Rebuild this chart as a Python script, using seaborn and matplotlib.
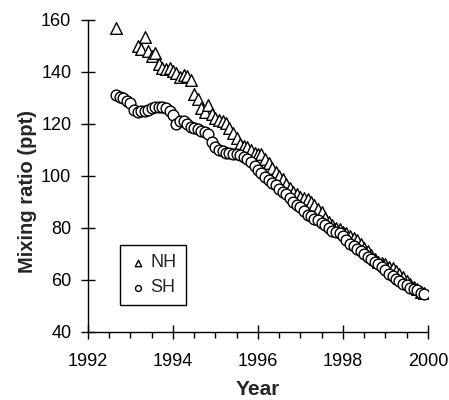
import matplotlib
matplotlib.use("Agg")
import matplotlib.pyplot as plt
import seaborn as sns
import pandas as pd
from matplotlib.ticker import MultipleLocator

# --- data -------------------------------------------------------------
sh_year = [1992.67, 1992.75, 1992.83, 1992.92, 1993.00, 1993.08, 1993.17, 1993.25,
           1993.33, 1993.42, 1993.50, 1993.58, 1993.67, 1993.75, 1993.83, 1993.92,
           1994.00, 1994.08, 1994.17, 1994.25, 1994.33, 1994.42, 1994.50, 1994.58,
           1994.67, 1994.75, 1994.83, 1994.92, 1995.00, 1995.08, 1995.17, 1995.25,
           1995.33, 1995.42, 1995.50, 1995.58, 1995.67, 1995.75, 1995.83, 1995.92,
           1996.00, 1996.08, 1996.17, 1996.25, 1996.33, 1996.42, 1996.50, 1996.58,
           1996.67, 1996.75, 1996.83, 1996.92, 1997.00, 1997.08, 1997.17, 1997.25,
           1997.33, 1997.42, 1997.50, 1997.58, 1997.67, 1997.75, 1997.83, 1997.92,
           1998.00, 1998.08, 1998.17, 1998.25, 1998.33, 1998.42, 1998.50, 1998.58,
           1998.67, 1998.75, 1998.83, 1998.92, 1999.00, 1999.08, 1999.17, 1999.25,
           1999.33, 1999.42, 1999.50, 1999.58, 1999.67, 1999.75, 1999.83, 1999.92]
sh_ppt = [131, 130.5, 130, 129, 128, 125.5, 124.5, 125,
          125, 125.5, 126, 126.5, 126.5, 126.5, 126, 125,
          123.5, 120, 121, 121, 120, 119, 118.5, 118,
          117.5, 117, 116, 113, 111, 110, 109.5, 109,
          109, 108.5, 108.5, 108, 107.5, 106.5, 105.5, 104,
          102.5, 101, 99.5, 98.5, 97.5, 96.5, 95, 94,
          93, 91.5, 90, 89, 88, 86.5, 85, 84.5,
          83.5, 83, 82, 81, 80, 79, 78.5, 78,
          77, 75.5, 74, 73, 72, 71, 70, 69,
          68, 67, 66, 65, 64, 62.5, 61.5, 60.5,
          59.5, 58.5, 58, 57, 56.5, 56, 55, 54.5]

nh_year = [1992.67, 1993.17, 1993.25, 1993.33, 1993.42, 1993.50, 1993.58, 1993.67,
           1993.75, 1993.83, 1993.92, 1994.00, 1994.08, 1994.17, 1994.25, 1994.33,
           1994.42, 1994.50, 1994.58, 1994.67, 1994.75, 1994.83, 1994.92, 1995.00,
           1995.08, 1995.17, 1995.25, 1995.33, 1995.42, 1995.50, 1995.58, 1995.67,
           1995.75, 1995.83, 1995.92, 1996.00, 1996.08, 1996.17, 1996.25, 1996.33,
           1996.42, 1996.50, 1996.58, 1996.67, 1996.75, 1996.83, 1996.92, 1997.00,
           1997.08, 1997.17, 1997.25, 1997.33, 1997.42, 1997.50, 1997.58, 1997.67,
           1997.75, 1997.83, 1997.92, 1998.00, 1998.08, 1998.17, 1998.25, 1998.33,
           1998.42, 1998.50, 1998.58, 1998.67, 1998.75, 1998.83, 1998.92, 1999.00,
           1999.08, 1999.17, 1999.25, 1999.33, 1999.42, 1999.50, 1999.58, 1999.67,
           1999.75, 1999.83, 1999.92]
nh_ppt = [157, 150, 149, 153.5, 148, 146, 147.5, 143,
          141.5, 141, 141.5, 140.5, 139.5, 138, 139, 138.5,
          137, 131.5, 129.5, 126, 124.5, 127.5, 124, 122.5,
          121.5, 121, 120.5, 118.5, 116.5, 114.5, 112.5, 111.5,
          111, 110, 109, 108.5, 108.5, 106.5, 105, 103,
          101.5, 100, 99, 97, 95.5, 94, 93, 92,
          91.5, 91, 90, 89, 87.5, 86, 84, 82.5,
          81, 80, 79.5, 78.5, 78, 77, 76, 75.5,
          74, 72.5, 71, 69.5, 68, 67, 66.5, 66,
          65, 64.5, 63.5, 62.5, 61, 59.5, 58.5, 57.5,
          56.5, 55.5, 55]

x_ticks = [1992, 1994, 1996, 1998, 2000]
y_ticks = [40, 60, 80, 100, 120, 140, 160]
x_label = "Year"
y_label = "Mixing ratio (ppt)"
series_names = ["NH", "SH"]

# --- plot -------------------------------------------------------------
sns.set_style("ticks")
plt.rcParams['font.family'] = ['Liberation Sans', 'DejaVu Sans']

nh = pd.DataFrame({"year": nh_year, "ppt": nh_ppt})
sh = pd.DataFrame({"year": sh_year, "ppt": sh_ppt})

fig = plt.figure(figsize=(4.49, 4.0), dpi=100)
ax = fig.add_axes([0.196, 0.17, 0.757, 0.78])

sns.scatterplot(data=nh, x="year", y="ppt", marker="^", s=70, facecolor="white",
                edgecolor="black", linewidth=1.0, ax=ax, label=series_names[0], zorder=2)
sns.scatterplot(data=sh, x="year", y="ppt", marker="o", s=60, facecolor="white",
                edgecolor="black", linewidth=1.0, ax=ax, label=series_names[1], zorder=3)

ax.set_xlim(x_ticks[0], x_ticks[-1])
ax.set_ylim(y_ticks[0], y_ticks[-1])
ax.set_xticks(x_ticks)
ax.set_yticks(y_ticks)
ax.xaxis.set_minor_locator(MultipleLocator(0.5))
ax.tick_params(axis="both", which="major", direction="inout", length=10, width=1,
               labelsize=13, color="black", labelcolor="black")
ax.tick_params(axis="x", which="major", pad=10)
ax.tick_params(axis="y", which="major", pad=7)
ax.tick_params(axis="x", which="minor", direction="out", length=4, width=1, color="black")
for s in ["top", "right"]:
    ax.spines[s].set_visible(False)
for s in ["left", "bottom"]:
    ax.spines[s].set_color("black")
    ax.spines[s].set_linewidth(1)

ax.set_xlabel(x_label, fontsize=15, fontweight="bold", labelpad=7)
ax.set_ylabel(y_label, fontsize=14.5, fontweight="bold")
ax.yaxis.set_label_coords(-0.15, 0.45)

leg = ax.legend(loc="lower left", bbox_to_anchor=(0.094, 0.085), fontsize=13,
                frameon=True, fancybox=False, edgecolor="black", framealpha=1,
                markerscale=0.55, handletextpad=0.2, handlelength=1.0,
                borderpad=0.5, labelspacing=0.45, borderaxespad=0)
leg.get_frame().set_linewidth(1)

fig.savefig("out.png", dpi=100)
